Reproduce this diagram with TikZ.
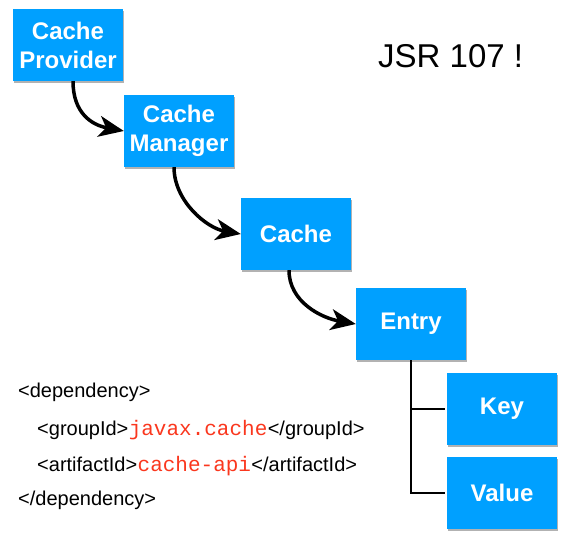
\documentclass[tikz,border=0pt]{standalone}
\usepackage{fontspec}
\setmainfont{Liberation Sans}
\setmonofont{Liberation Mono}
\usetikzlibrary{arrows.meta,shadows}
\definecolor{boxblue}{RGB}{0,160,255}
\definecolor{xmlred}{RGB}{250,55,30}
\tikzset{
  box/.style={fill=boxblue, minimum width=110pt, minimum height=72pt, inner sep=0pt,
    text=white, font=\fontsize{24}{29}\selectfont\bfseries, align=center,
    drop shadow={shadow xshift=1pt, shadow yshift=-1.5pt, opacity=0.3, fill=black}},
  flow/.style={-{Stealth[length=25pt,width=21pt,inset=7pt]}, line width=3.5pt, black},
  code/.style={anchor=base west, inner sep=0pt, font=\fontsize{20}{20}\selectfont},
  red/.style={text=xmlred, font=\fontsize{21}{21}\selectfont\ttfamily},
  tree/.style={line width=2pt}
}
\begin{document}
\begin{tikzpicture}[x=1pt, y=-1pt]
        \useasboundingbox (0,0) rectangle (579,542);

        \node[box] (provider) at (68,45) {Cache\\Provider};
        \node[box] (manager) at (179,131) {Cache\\Manager};
        \node[box] (cache) at (296,234) {Cache};
        \node[box] (entry) at (411,324) {Entry};
        \node[box] (key) at (502,409) {Key};
        \node[box] (value) at (502,493) {Value};

        \node[anchor=base west, inner sep=0pt, font=\fontsize{33}{33}\selectfont] (jsr) at (378,67) {JSR 107 !};

        \node[code] (dep1) at (18,397) {<dependency>};
        \node[code] (grp1) at (37,435) {<groupId>};
        \node[code, red, anchor=base west] (grp2) at (grp1.base east) {javax.cache};
        \node[code, anchor=base west] (grp3) at (grp2.base east) {</groupId>};
        \node[code] (art1) at (37,471) {<artifactId>};
        \node[code, red, anchor=base west] (art2) at (art1.base east) {cache-api};
        \node[code, anchor=base west] (art3) at (art2.base east) {</artifactId>};
        \node[code] (dep2) at (18,505) {</dependency>};

        \draw[flow] ([xshift=5pt]provider.south) .. controls +(0,32) and +(-32,-6) .. (manager.west);
        \draw[flow] ([xshift=-5pt]manager.south) .. controls +(0,34) and +(-34,-6) .. (cache.west);
        \draw[flow] ([xshift=-7pt]cache.south) .. controls +(0,32) and +(-34,-6) .. (entry.west);

        \draw[tree] (entry.south) |- ([xshift=-2pt]key.west);
        \draw[tree] (entry.south) |- ([xshift=-2pt]value.west);
        \end{tikzpicture}
\end{document}
